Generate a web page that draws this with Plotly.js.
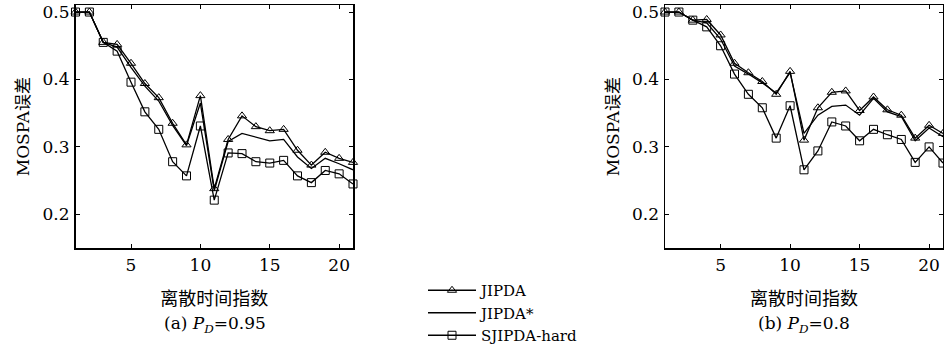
<!DOCTYPE html>
<html>
<head>
<meta charset="utf-8">
<script src="https://cdn.plot.ly/plotly-3.0.1.min.js"></script>
<style>html,body{margin:0;padding:0;background:#fff}#chart{width:944px;height:347px}</style>
</head>
<body>
<div id="chart"></div>
<script>
// Shared x (discrete time index)
const timeIndex = [1,2,3,4,5,6,7,8,9,10,11,12,13,14,15,16,17,18,19,20,21];

// (a) P_D = 0.95
const jipdaA     = [0.500,0.500,0.455,0.452,0.424,0.394,0.373,0.335,0.303,0.376,0.238,0.311,0.346,0.330,0.324,0.326,0.295,0.273,0.292,0.283,0.277];
const jipdaStarA = [0.500,0.500,0.455,0.448,0.418,0.390,0.368,0.332,0.302,0.365,0.235,0.308,0.320,0.314,0.309,0.311,0.285,0.268,0.283,0.275,0.266];
const sjipdaA    = [0.500,0.500,0.455,0.442,0.396,0.352,0.326,0.278,0.257,0.331,0.221,0.291,0.290,0.278,0.276,0.280,0.257,0.247,0.265,0.260,0.245];

// (b) P_D = 0.8
const jipdaB     = [0.500,0.500,0.488,0.489,0.466,0.424,0.410,0.397,0.378,0.412,0.310,0.358,0.381,0.383,0.354,0.374,0.355,0.347,0.313,0.332,0.320];
const jipdaStarB = [0.500,0.500,0.488,0.484,0.460,0.420,0.408,0.395,0.380,0.410,0.320,0.347,0.360,0.362,0.347,0.372,0.352,0.345,0.309,0.328,0.315];
const sjipdaB    = [0.500,0.500,0.488,0.478,0.450,0.408,0.378,0.358,0.313,0.361,0.266,0.294,0.337,0.331,0.309,0.326,0.318,0.311,0.277,0.300,0.276];

const seriesNames = ['JIPDA', 'JIPDA*', 'SJIPDA-hard'];
const xTickVals = [5,10,15,20];
const yTickVals = [0.2,0.3,0.4,0.5];
const xTitle = '离散时间指数';
const yTitle = 'MOSPA误差';
const captions = ['(a) <i>P</i><sub><i>D</i></sub>=0.95', '(b) <i>P</i><sub><i>D</i></sub>=0.8'];

const W = 944, H = 347;
const px = v => v / W;
const py = v => 1 - v / H;

const serif = 'DejaVu Serif, Noto Sans CJK SC, serif';
const lineW = 1.3;

function traces(xa, ya, d1, d2, d3, show) {
  return [
    {x: timeIndex, y: d1, name: seriesNames[0], xaxis: xa, yaxis: ya, type: 'scatter', mode: 'lines+markers',
     line: {color: '#000', width: lineW}, marker: {symbol: 'triangle-up-open', size: 8, color: '#000', line: {width: 1, color: '#000'}},
     showlegend: show, cliponaxis: false},
    {x: timeIndex, y: d2, name: seriesNames[1], xaxis: xa, yaxis: ya, type: 'scatter', mode: 'lines',
     line: {color: '#000', width: lineW}, showlegend: show, cliponaxis: false},
    {x: timeIndex, y: d3, name: seriesNames[2], xaxis: xa, yaxis: ya, type: 'scatter', mode: 'lines+markers',
     line: {color: '#000', width: lineW}, marker: {symbol: 'square-open', size: 8, color: '#000', line: {width: 1, color: '#000'}},
     showlegend: show, cliponaxis: false}
  ];
}

const data = [
  ...traces('x', 'y', jipdaA, jipdaStarA, sjipdaA, true),
  ...traces('x2', 'y2', jipdaB, jipdaStarB, sjipdaB, false)
];

function xaxis(domain, anchor) {
  return {
    domain: domain, anchor: anchor, range: [1, 21],
    tickmode: 'array', tickvals: xTickVals, ticktext: xTickVals.map(String),
    ticks: 'inside', ticklen: 4, tickwidth: 1, tickcolor: '#000',
    showline: true, linecolor: '#000', linewidth: 1.5, mirror: 'ticks',
    showgrid: false, zeroline: false,
    tickfont: {family: serif, size: 17, color: '#000'},
    ticklabelstandoff: 1,
    title: {text: xTitle, font: {family: 'Noto Sans CJK SC, sans-serif', size: 18, color: '#000'}, standoff: 18},
    automargin: false, fixedrange: true
  };
}
function yaxis(domain, anchor) {
  return {
    domain: domain, anchor: anchor, range: [0.15, 0.51],
    tickmode: 'array', tickvals: yTickVals, ticktext: yTickVals.map(v => v.toFixed(1)),
    ticks: 'inside', ticklen: 4, tickwidth: 1, tickcolor: '#000',
    showline: true, linecolor: '#000', linewidth: 1.5, mirror: 'ticks',
    showgrid: false, zeroline: false,
    tickfont: {family: serif, size: 17, color: '#000'},
    ticklabelstandoff: 1,
    title: {text: yTitle, font: {family: serif, size: 17, color: '#000'}, standoff: 8},
    automargin: false, fixedrange: true
  };
}

const yDom = [py(248), py(5.3)];

const layout = {
  width: W, height: H,
  margin: {l: 0, r: 0, t: 0, b: 0, pad: 0, autoexpand: false},
  paper_bgcolor: '#fff', plot_bgcolor: 'rgba(0,0,0,0)',
  font: {family: serif, color: '#000'},
  xaxis: xaxis([px(75.5), px(353)], 'y'),
  yaxis: yaxis(yDom, 'x'),
  xaxis2: xaxis([px(665), px(943)], 'y2'),
  yaxis2: yaxis(yDom, 'x2'),
  showlegend: true,
  legend: {
    x: px(423), xanchor: 'left', y: py(274), yanchor: 'top',
    font: {family: serif, size: 15, color: '#000'},
    bgcolor: 'rgba(0,0,0,0)', borderwidth: 0, tracegroupgap: 0,
    itemwidth: 48
  },
  annotations: [
    {text: captions[0], x: px(215), y: py(324), xref: 'paper', yref: 'paper', xanchor: 'center', yanchor: 'middle',
     showarrow: false, font: {family: serif, size: 17, color: '#000'}},
    {text: captions[1], x: px(804), y: py(324), xref: 'paper', yref: 'paper', xanchor: 'center', yanchor: 'middle',
     showarrow: false, font: {family: serif, size: 17, color: '#000'}}
  ]
};

Plotly.newPlot('chart', data, layout, {staticPlot: true, displayModeBar: false});
</script>
</body>
</html>
